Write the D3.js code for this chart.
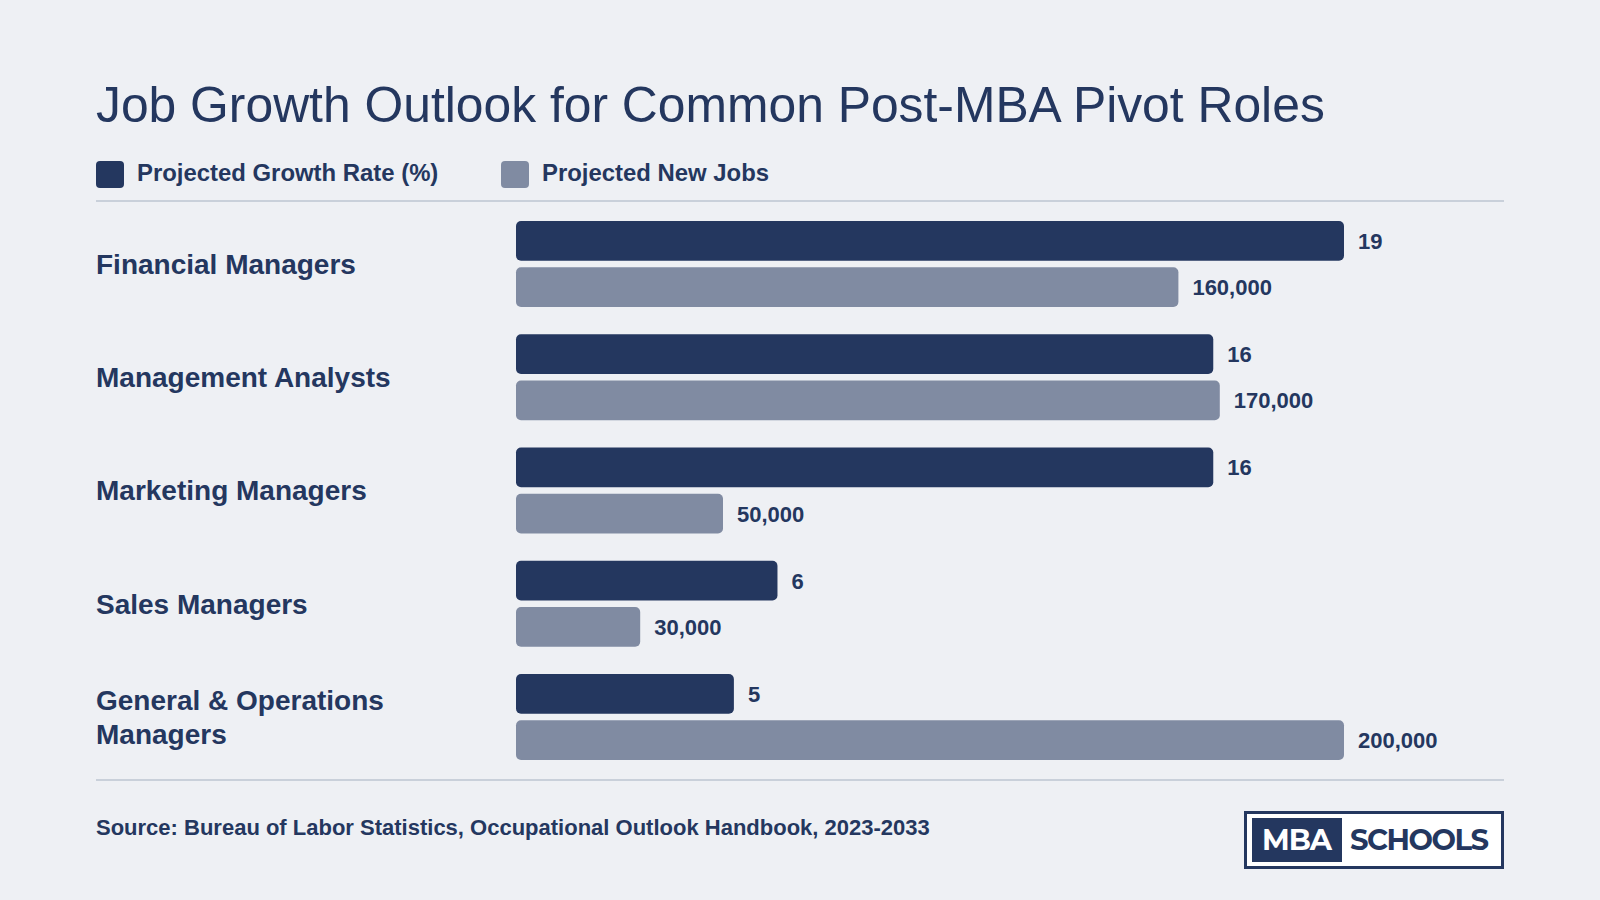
<!DOCTYPE html>
<html>
<head>
<meta charset="utf-8">
<script src="https://cdn.jsdelivr.net/npm/d3@7"></script>
<style>
  html, body { margin: 0; padding: 0; background: #eef0f4; }
  svg { display: block; font-family: "Liberation Sans", Arial, Helvetica, sans-serif; }
</style>
</head>
<body>
<script>
// Data
var categories = ["Financial Managers", "Management Analysts", "Marketing Managers", "Sales Managers", "General & Operations Managers"];
var growthRates = [19, 16, 16, 6, 5];
var newJobs = [160000, 170000, 50000, 30000, 200000];
var seriesNames = ["Projected Growth Rate (%)", "Projected New Jobs"];
var seriesKeys = ["growth", "jobs"];

var navy = "#24375f",
    slate = "#808ba2",
    rule = "#c9d0da";

var width = 1600, height = 900;
var margin = { left: 96, right: 96 };

var svg = d3.select("body").append("svg")
    .attr("width", width)
    .attr("height", height);

svg.append("rect")
    .attr("width", width)
    .attr("height", height)
    .attr("fill", "#eef0f4");

// Title
svg.append("text")
    .attr("x", margin.left)
    .attr("y", 122)
    .attr("fill", navy)
    .attr("font-size", 49.8)
    .text("Job Growth Outlook for Common Post-MBA Pivot Roles");

// Legend
var legendX = [96, 501];
var legend = svg.selectAll("g.legend")
    .data(seriesNames)
    .enter().append("g")
    .attr("class", "legend")
    .attr("transform", function (d, i) { return "translate(" + legendX[i] + ",161)"; });

legend.append("rect")
    .attr("width", 28)
    .attr("height", 27)
    .attr("rx", 4)
    .attr("fill", function (d, i) { return i === 0 ? navy : slate; });

legend.append("text")
    .attr("x", 41)
    .attr("y", 20)
    .attr("fill", navy)
    .attr("font-size", 23.9)
    .attr("font-weight", "bold")
    .text(function (d) { return d; });

// Divider lines
svg.append("line")
    .attr("x1", margin.left).attr("x2", width - margin.right)
    .attr("y1", 201).attr("y2", 201)
    .attr("stroke", rule).attr("stroke-width", 2);

svg.append("line")
    .attr("x1", margin.left).attr("x2", width - margin.right)
    .attr("y1", 780).attr("y2", 780)
    .attr("stroke", rule).attr("stroke-width", 2);

// Scales
var y0 = d3.scaleBand()
    .domain(categories)
    .range([221, 760])
    .paddingInner(0.24);

var y1 = d3.scaleBand()
    .domain(seriesKeys)
    .range([0, y0.bandwidth()])
    .paddingInner(0.14);

var xGrowth = d3.scaleLinear()
    .domain([0, d3.max(growthRates)])
    .range([516, 1344]);

var xJobs = d3.scaleLinear()
    .domain([0, d3.max(newJobs)])
    .range([516, 1344]);

var rows = categories.map(function (c, i) {
    return { name: c, growth: growthRates[i], jobs: newJobs[i] };
});

var row = svg.selectAll("g.row")
    .data(rows)
    .enter().append("g")
    .attr("class", "row")
    .attr("transform", function (d) { return "translate(0," + y0(d.name) + ")"; });

// Category labels (wrapped)
row.append("text")
    .attr("x", margin.left)
    .attr("fill", navy)
    .attr("font-size", 28)
    .attr("font-weight", "bold")
    .each(function (d) {
        var t = d3.select(this);
        var words = d.name.split(" "), lines = [], line = [];
        words.forEach(function (w) {
            line.push(w);
            t.text(line.join(" "));
            if (this.getComputedTextLength() > 360 && line.length > 1) {
                line.pop();
                lines.push(line.join(" "));
                line = [w];
            }
        }, this);
        lines.push(line.join(" "));
        t.text(null);
        var lh = 34.5;
        var first = y0.bandwidth() / 2 + 10 - (lines.length - 1) * lh / 2;
        lines.forEach(function (l, k) {
            t.append("tspan")
                .attr("x", margin.left)
                .attr("y", first + k * lh)
                .text(l);
        });
    });

// Bars
row.append("rect")
    .attr("x", xGrowth(0))
    .attr("y", y1("growth"))
    .attr("width", function (d) { return xGrowth(d.growth) - xGrowth(0); })
    .attr("height", y1.bandwidth())
    .attr("rx", 5)
    .attr("fill", navy);

row.append("rect")
    .attr("x", xJobs(0))
    .attr("y", y1("jobs"))
    .attr("width", function (d) { return xJobs(d.jobs) - xJobs(0); })
    .attr("height", y1.bandwidth())
    .attr("rx", 5)
    .attr("fill", slate);

// Value labels
row.append("text")
    .attr("x", function (d) { return xGrowth(d.growth) + 14; })
    .attr("y", y1("growth") + y1.bandwidth() / 2 + 8)
    .attr("fill", navy)
    .attr("font-size", 22)
    .attr("font-weight", "bold")
    .text(function (d) { return d.growth; });

row.append("text")
    .attr("x", function (d) { return xJobs(d.jobs) + 14; })
    .attr("y", y1("jobs") + y1.bandwidth() / 2 + 8)
    .attr("fill", navy)
    .attr("font-size", 22)
    .attr("font-weight", "bold")
    .text(function (d) { return d3.format(",")(d.jobs); });

// Source
svg.append("text")
    .attr("x", margin.left)
    .attr("y", 835)
    .attr("fill", navy)
    .attr("font-size", 22)
    .attr("font-weight", "bold")
    .text("Source: Bureau of Labor Statistics, Occupational Outlook Handbook, 2023-2033");

// Logo
var logo = svg.append("g").attr("transform", "translate(1244,811)");
logo.append("rect")
    .attr("x", 1.5).attr("y", 1.5)
    .attr("width", 257).attr("height", 55)
    .attr("fill", "#ffffff")
    .attr("stroke", navy)
    .attr("stroke-width", 3);
logo.append("rect")
    .attr("x", 8).attr("y", 7)
    .attr("width", 90).attr("height", 44)
    .attr("fill", navy);
logo.append("text")
    .attr("x", 53).attr("y", 39)
    .attr("text-anchor", "middle")
    .attr("fill", "#ffffff")
    .attr("font-family", "Montserrat, 'Open Sans', 'Liberation Sans', sans-serif")
    .attr("font-size", 29)
    .attr("font-weight", "bold")
    .attr("textLength", 70)
    .text("MBA");
logo.append("text")
    .attr("x", 106).attr("y", 39)
    .attr("fill", navy)
    .attr("font-family", "Montserrat, 'Open Sans', 'Liberation Sans', sans-serif")
    .attr("font-size", 29)
    .attr("font-weight", "bold")
    .attr("textLength", 139)
    .text("SCHOOLS");
</script>
</body>
</html>
